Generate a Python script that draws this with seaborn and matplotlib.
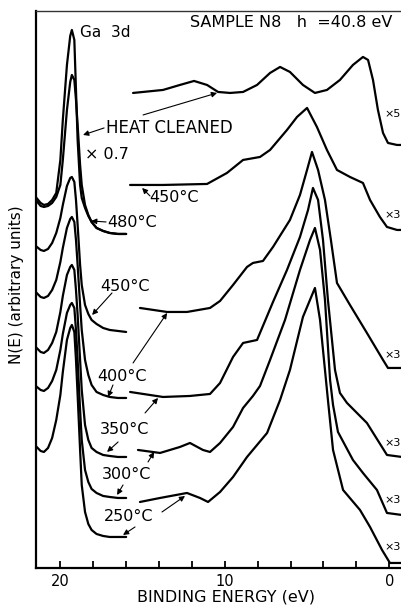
import matplotlib
matplotlib.use("Agg")
import matplotlib.pyplot as plt
import pandas as pd
import seaborn as sns

# ---------------------------------------------------------------------------
# Ga 3d core-level region, shared binding-energy grid (eV)
ga_energy = [21.5, 21.2, 21.0, 20.75, 20.5, 20.25, 20.0, 19.85, 19.6, 19.4, 19.3, 19.15,
             19.05, 18.95, 18.8, 18.7, 18.5, 18.3, 18.1, 17.8, 17.4, 17.0, 16.5, 16.0]

ga_heat_cleaned = [371, 365, 363, 364, 368, 375, 408, 448, 503, 532, 538, 528,
                   478, 428, 383, 370, 360, 352, 346, 340, 337, 335, 334, 334]
ga_480 = [368, 362, 361, 362, 365, 371, 383, 408, 458, 486, 493, 488,
          468, 443, 403, 383, 363, 353, 346, 340, 337, 335, 334, 334]
ga_450 = [322, 318, 317, 319, 325, 335, 350, 363, 382, 390, 391, 386,
          368, 343, 303, 283, 263, 254, 248, 244, 240, 238, 237, 236]
ga_400 = [276, 271, 270, 272, 278, 288, 306, 320, 340, 349, 351, 346,
          328, 303, 263, 238, 208, 193, 183, 176, 173, 171, 170, 170]
ga_350 = [221, 216, 215, 218, 225, 236, 256, 272, 293, 301, 303, 298,
          278, 253, 208, 178, 143, 128, 120, 116, 113, 112, 111, 111]
ga_300 = [182, 178, 177, 180, 187, 198, 218, 234, 255, 263, 265, 260,
          238, 208, 158, 128, 98, 86, 79, 75, 72, 71, 70, 70]
ga_250 = [122, 117, 116, 120, 130, 148, 173, 196, 228, 240, 243, 236,
          208, 173, 118, 83, 56, 44, 38, 34, 32, 31, 31, 31]

# ---------------------------------------------------------------------------
# Valence-band region (magnified), energy / N(E) pairs for each spectrum
vb_hc_e = [15.58, 13.76, 12.73, 11.87, 11.08, 10.41, 9.68, 8.89, 8.04, 7.25, 6.64, 6.04, 5.25,
           4.52, 3.79, 3.00, 2.21, 1.60, 1.29, 0.99, 0.69, 0.38, 0.08, -0.47, -0.77]
vb_hc_n = [475, 478, 483, 487, 483, 476, 475, 476, 483, 495, 501, 496, 483,
           475, 478, 488, 503, 511, 508, 488, 458, 435, 425, 423, 423]

vb_450_e = [15.76, 13.76, 11.08, 9.87, 8.89, 7.86, 7.25, 6.22, 5.61, 5.00, 4.40, 3.79, 3.18,
            2.39, 1.60, 1.17, 0.57, 0.14, -0.47, -0.77]
vb_450_n = [383, 383, 384, 395, 408, 411, 418, 438, 451, 460, 441, 418, 398,
            391, 385, 368, 351, 341, 338, 338]

vb_400_e = [15.16, 13.51, 12.30, 10.90, 10.29, 9.50, 8.65, 8.29, 7.68, 7.07, 6.04, 5.43, 5.00,
            4.70, 4.33, 3.91, 3.55, 3.18, 2.39, 1.36, 0.38, 0.08, -0.77]
vb_400_n = [260, 256, 256, 260, 267, 283, 301, 305, 307, 321, 348, 373, 398,
            416, 398, 368, 328, 285, 263, 235, 208, 200, 200]

vb_350_e = [15.76, 13.76, 12.12, 10.90, 10.29, 9.50, 8.89, 8.04, 7.07, 6.22, 5.43, 4.94, 4.64,
            4.33, 4.03, 3.73, 3.30, 3.00, 2.57, 1.36, 0.14, -0.77]
vb_350_n = [176, 171, 172, 174, 185, 211, 225, 228, 266, 298, 331, 358, 380,
            368, 328, 268, 198, 175, 165, 145, 113, 111]

vb_300_e = [15.28, 13.94, 12.73, 12.12, 11.33, 10.90, 10.29, 9.50, 8.89, 8.29, 7.86, 7.25, 6.34,
            5.43, 4.82, 4.52, 4.21, 3.91, 3.60, 3.42, 3.12, 2.21, 1.60, 0.75, 0.14, -0.77]
vb_300_n = [118, 115, 121, 125, 118, 116, 125, 141, 160, 172, 182, 208, 248,
            298, 328, 340, 318, 268, 188, 163, 136, 108, 95, 78, 55, 53]

vb_250_e = [15.16, 13.94, 12.30, 11.51, 11.02, 10.29, 9.50, 8.65, 7.43, 6.64, 6.04, 5.25, 4.52,
            4.21, 3.91, 3.73, 3.42, 2.81, 1.78, 1.17, 0.44, -0.04, -0.77]
vb_250_n = [66, 70, 75, 70, 66, 76, 91, 111, 135, 168, 198, 251, 280,
            248, 198, 168, 118, 78, 58, 41, 18, 5, 5]

temperature_labels = ["480°C", "450°C", "400°C", "350°C", "300°C", "250°C"]
magnifications = ["×5", "×3", "×3", "×3", "×3", "×3"]

# ---------------------------------------------------------------------------
segments = []
for name, vals in [("hc", ga_heat_cleaned), ("480", ga_480), ("450", ga_450),
                   ("400", ga_400), ("350", ga_350), ("300", ga_300), ("250", ga_250)]:
    segments.append(pd.DataFrame({"energy": ga_energy, "n": vals, "seg": "ga_" + name}))
for name, e, n in [("hc", vb_hc_e, vb_hc_n), ("450", vb_450_e, vb_450_n),
                   ("400", vb_400_e, vb_400_n), ("350", vb_350_e, vb_350_n),
                   ("300", vb_300_e, vb_300_n), ("250", vb_250_e, vb_250_n)]:
    segments.append(pd.DataFrame({"energy": e, "n": n, "seg": "vb_" + name}))
df = pd.concat(segments, ignore_index=True)

sns.set_theme(style="white")
plt.rcParams["font.family"] = ["DejaVu Sans"]
plt.rcParams["text.color"] = "black"
plt.rcParams["axes.labelcolor"] = "black"

fig = plt.figure(figsize=(4.02, 6.05), dpi=100)
ax = fig.add_axes([0.0896, 0.0612, 0.9303, 0.9207])

sns.lineplot(data=df, x="energy", y="n", units="seg", estimator=None, sort=False,
             color="black", lw=1.6, ax=ax, legend=False)

ax.set_xlim(21.48, -1.26)
ax.set_ylim(0, 557)

ax.set_xticks(list(range(0, 21, 2)))
ax.set_xticklabels(["0" if t == 0 else "10" if t == 10 else "20" if t == 20 else ""
                    for t in range(0, 21, 2)])
ax.set_yticks([])
ax.tick_params(axis="x", direction="in", length=5, width=1.3, pad=4,
               labelsize=10.5, colors="black", bottom=True, top=False)
for side in ["left", "bottom"]:
    ax.spines[side].set_linewidth(1.6)
    ax.spines[side].set_color("black")
ax.spines["top"].set_linewidth(1.0)
ax.spines["top"].set_color("#333333")
ax.spines["right"].set_visible(False)

ax.set_xlabel("BINDING ENERGY (eV)", fontsize=11.5, va="center")
ax.xaxis.set_label_coords(0.508, -0.052)
ax.set_ylabel("N(E) (arbitrary units)", fontsize=11, va="center")
ax.yaxis.set_label_coords(-0.0535, 0.508)

fs = 11.5
ax.text(18.8, 535, "Ga  3d", fontsize=11, va="center")
ax.text(12.12, 545, "SAMPLE N8   h  =40.8 eV", fontsize=fs, va="center")
ax.text(17.22, 440, "HEAT CLEANED", fontsize=12, va="center")
ax.text(18.50, 413, "× 0.7", fontsize=fs, va="center")

label_pos = [(17.16, 345), (17.59, 281), (17.77, 191), (17.59, 138), (17.47, 93), (17.34, 51)]
for (x, y), lab in zip(label_pos, temperature_labels):
    ax.text(x, y, lab, fontsize=fs, va="center")
ax.text(14.60, 370, "450°C", fontsize=fs, va="center")

mag_y = [454, 353, 213, 125, 68, 21]
for y, lab in zip(mag_y, magnifications):
    ax.text(0.3, y, lab, fontsize=8, va="center")

arrow_kw = dict(arrowstyle="-|>", color="black", lw=0.8, mutation_scale=8,
                shrinkA=0, shrinkB=0)
arrows = [
    ((17.34, 440), (18.62, 433)),   # heat cleaned -> Ga 3d
    ((14.97, 453), (10.47, 475)),   # heat cleaned -> valence band
    ((14.55, 372), (15.03, 380)),   # 450 -> valence band
    ((17.22, 346), (18.13, 347)),   # 480 -> Ga 3d
    ((16.86, 275), (18.07, 253)),   # 450 -> Ga 3d
    ((16.80, 183), (17.10, 171)),   # 400 -> Ga 3d
    ((15.58, 205), (13.51, 255)),   # 400 -> valence band
    ((16.49, 126), (17.16, 116)),   # 350 -> Ga 3d
    ((14.85, 155), (14.06, 170)),   # 350 -> valence band
    ((16.19, 83), (16.55, 73)),     # 300 -> Ga 3d
    ((14.67, 106), (14.30, 116)),   # 300 -> valence band
    ((15.46, 41), (16.19, 33)),     # 250 -> Ga 3d
    ((13.82, 56), (12.42, 72)),     # 250 -> valence band
]
for tail, head in arrows:
    ax.annotate("", xy=head, xytext=tail, arrowprops=arrow_kw)

fig.savefig("out.png", dpi=100, facecolor="white")
